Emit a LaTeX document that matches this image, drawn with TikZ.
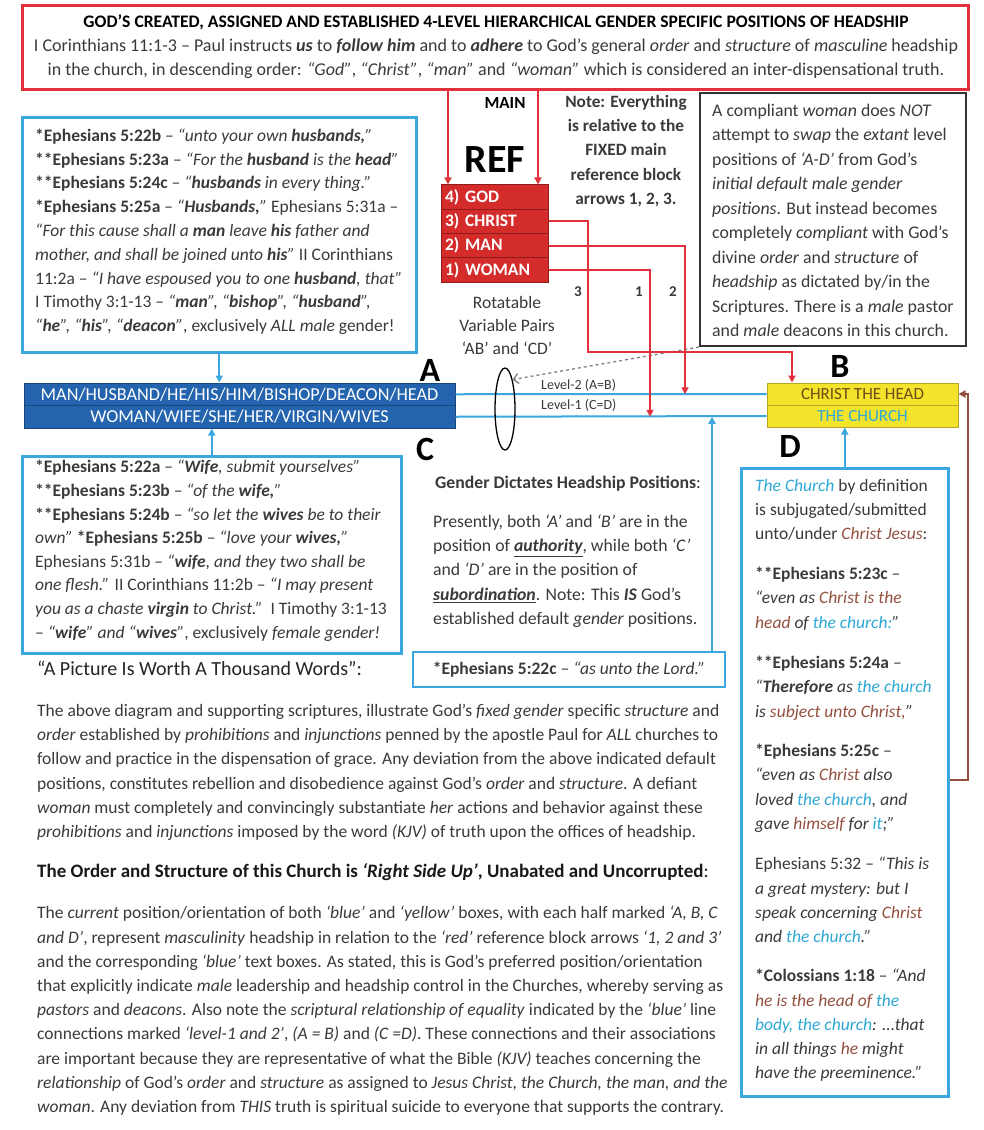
\documentclass[tikz,border=0pt]{standalone}
\usepackage{fontspec}
\setmainfont{Carlito}
\usetikzlibrary{arrows.meta,shapes.geometric}
\definecolor{redc}{HTML}{E0313C}
\definecolor{refred}{HTML}{D42B2B}
\definecolor{refdark}{HTML}{8E1C1C}
\definecolor{barblue}{HTML}{2464AE}
\definecolor{lb}{HTML}{3BA7DF}
\definecolor{ylw}{HTML}{F3E32B}
\definecolor{ylwb}{HTML}{B9A42A}
\definecolor{ydk}{HTML}{6B4E16}
\definecolor{brn}{HTML}{93503F}
\definecolor{txtc}{HTML}{3A3A3A}
\definecolor{chl}{HTML}{2FA8D5}
\newcommand{\cbr}[1]{\textcolor{brn}{#1}}
\newcommand{\clb}[1]{\textcolor{chl}{#1}}
\newcommand{\fsbox}{\fontsize{17.5}{24.2}\selectfont}
\newcommand{\fsbot}{\fontsize{17.5}{24.2}\selectfont}
\tikzset{
  bx/.style={draw=lb, line width=2.5pt, inner sep=0pt, anchor=north west},
  tx/.style={anchor=north west, inner sep=0pt, align=left, text=txtc, font=\fsbox},
  ra/.style={draw=redc, line width=2pt, -{Triangle[length=7,width=7]}},
  lba/.style={draw=lb, line width=2pt, -{Triangle[length=7,width=7]}},
  lbl/.style={draw=lb, line width=2pt},
  refrow/.style={fill=refred, draw=refdark, line width=1pt, minimum width=107, minimum height=24.25, text width=99, align=left, inner sep=0pt, text=white, font=\fontsize{17.5}{18}\selectfont\bfseries},
  barst/.style={fill=barblue, draw=barblue!70!black, line width=1pt, text=white, inner sep=0pt, minimum width=431, minimum height=22.5, font=\fontsize{18.2}{19}\selectfont},
  ylst/.style={fill=ylw, draw=ylwb, line width=1pt, inner sep=0pt, minimum width=191, minimum height=22, font=\fontsize{17}{18}\selectfont},
  big/.style={font=\fontsize{34}{36}\selectfont\bfseries, text=black, inner sep=0pt},
  lab/.style={font=\fontsize{14}{16}\selectfont, text=txtc, inner sep=0pt}
}
\begin{document}
\begin{tikzpicture}[x=1pt,y=-1pt]
\fill[white] (0,0) rectangle (984,1130);
\useasboundingbox (0,0) rectangle (984,1130);

% ---------- top box
\node[draw=redc, line width=2.5pt, minimum width=946, minimum height=84, anchor=north west, inner sep=0pt] (topbox) at (21,4) {};
\node[font=\fontsize{17.6}{19}\selectfont\bfseries, text=black, inner sep=0pt] (t1) at (496,22) {GOD’S CREATED, ASSIGNED AND ESTABLISHED 4-LEVEL HIERARCHICAL GENDER SPECIFIC POSITIONS OF HEADSHIP};
\node[font=\fontsize{18}{20}\selectfont, text=txtc, inner sep=0pt] (t2) at (496,47) {I Corinthians 11:1-3 – Paul instructs \textbf{\textit{us}} to \textbf{\textit{follow him}} and to \textbf{\textit{adhere}} to God’s general \textit{order} and \textit{structure} of \textit{masculine} headship};
\node[font=\fontsize{18}{20}\selectfont, text=txtc, inner sep=0pt] (t3) at (496,71) {in the church, in descending order: \textit{“God”}, \textit{“Christ”}, \textit{“man”} and \textit{“woman”} which is considered an inter-dispensational truth.};

% ---------- REF block
\node[font=\fontsize{17}{19}\selectfont\bfseries, text=black, inner sep=0pt] (mainlbl) at (505,103) {MAIN};
\node[font=\fontsize{40}{44}\selectfont\bfseries, text=black, inner sep=0pt] (reflbl) at (495,160) {REF};
\node[refrow] (god) at (494.5,197.1) {4) GOD};
\node[refrow] (christ) at (494.5,221.4) {3) CHRIST};
\node[refrow] (man) at (494.5,245.6) {2) MAN};
\node[refrow] (woman) at (494.5,269.9) {1) WOMAN};
\coordinate (m1) at (448,0);
\coordinate (m2) at (538,0);
\draw[ra] (topbox.south -| m1) -- (god.north -| m1);
\draw[ra] (topbox.south -| m2) -- (god.north -| m2);

\node[anchor=north, align=center, inner sep=0pt, text=txtc, font=\fontsize{17.3}{24.25}\selectfont\bfseries] (note1) at (626,95) {Note: Everything\\is relative to the\\FIXED main\\reference block\\arrows 1, 2, 3.};

\node[anchor=north, align=center, inner sep=0pt, text=txtc, font=\fontsize{17.5}{23}\selectfont] (rot) at (507,296) {Rotatable\\Variable Pairs\\‘AB’ and ‘CD’};

\node[lab, font=\fontsize{15}{17}\selectfont\bfseries] (n3) at (578,292) {3};
\node[lab, font=\fontsize{15}{17}\selectfont\bfseries] (n1) at (639,292) {1};
\node[lab, font=\fontsize{15}{17}\selectfont\bfseries] (n2) at (673,292) {2};

% ---------- black note box
\node[draw=black!80, line width=2pt, minimum width=266, minimum height=253, anchor=north west, inner sep=0pt] (note2) at (699,92) {};
\node[tx, font=\fontsize{17.8}{24.5}\selectfont] (note2t) at (712,103.5) {A compliant \textit{woman} does \textit{NOT}\\attempt to \textit{swap} the \textit{extant} level\\positions of \textit{‘A-D’} from God’s\\\textit{initial default male gender}\\\textit{positions}. But instead becomes\\completely \textit{compliant} with God’s\\divine \textit{order} and \textit{structure} of\\\textit{headship} as dictated by/in the\\Scriptures. There is a \textit{male} pastor\\and \textit{male} deacons in this church.};

% ---------- left top box
\node[bx, minimum width=394, minimum height=235] (ltb) at (21,116) {};
\node[tx, font=\fontsize{17.5}{23.8}\selectfont] (ltbt) at (35,128.5) {\textbf{*Ephesians 5:22b} – \textit{“unto your own \textbf{husbands,}”}\\\textbf{**Ephesians 5:23a} – \textit{“For the \textbf{husband} is the \textbf{head}”}\\\textbf{**Ephesians 5:24c} – \textit{“\textbf{husbands} in every thing.”}\\\textbf{*Ephesians 5:25a} – \textit{“\textbf{Husbands,}”} Ephesians 5:31a –\\\textit{“For this cause shall a \textbf{man} leave \textbf{his} father and}\\\textit{mother, and shall be joined unto \textbf{his}”} II Corinthians\\11:2a – \textit{“I have espoused you to one \textbf{husband}, that”}\\I Timothy 3:1-13 – \textit{“\textbf{man}”, “\textbf{bishop}”, “\textbf{husband}”,}\\\textit{“\textbf{he}”, “\textbf{his}”, “\textbf{deacon}”}, exclusively \textit{ALL male} gender!};

% ---------- bars
\node[barst] (barA) at (239.5,394.25) {MAN/HUSBAND/HE/HIS/HIM/BISHOP/DEACON/HEAD};
\node[barst] (barC) at (239.5,416.75) {WOMAN/WIFE/SHE/HER/VIRGIN/WIVES};
\node[big] (lA) at (430,370) {A};
\node[big] (lC) at (425,449) {C};
\node[big] (lB) at (840,366) {B};
\node[big] (lD) at (790,446) {D};

\node[ylst] (yB) at (862.5,394) {\textcolor{ydk}{CHRIST THE HEAD}};
\node[ylst] (yD) at (862.5,416) {\textcolor{chl}{THE CHURCH}};

\draw[lbl] (barA.east) -- (yB.west);
\draw[lbl] (barC.east) -- (yD.west);

\node[draw=black, ellipse, line width=1.3pt, minimum width=20, minimum height=82, inner sep=0pt] (ell) at (505,409) {};
\node[lab, anchor=west] (lv2) at (541,385) {Level-2 (A=B)};
\node[lab, anchor=west] (lv1) at (541,405) {Level-1 (C=D)};

\draw[dashed, draw=gray, line width=1.3pt, -{Straight Barb[length=5,width=10]}] (note2.south west) -- (ell.north east);

% red connectors
\coordinate (r3) at (588,352);
\coordinate (r3b) at (792,0);
\coordinate (r2) at (685,0);
\coordinate (r1) at (650,0);
\draw[ra] (christ.east) -| (r3) -| (yB.north -| r3b);
\draw[ra] (man.east) -| (barA.east -| r2);
\draw[ra] (woman.east) -| (barC.east -| r1);

% blue arrows
\draw[lba] (ltb.south) -- (ltb.south |- barA.north);

% ---------- left lower box
\node[bx, minimum width=379, minimum height=197] (llb) at (21,455) {};
\draw[lba] (llb.north) -- (llb.north |- barC.south);
\node[tx, font=\fontsize{17.5}{23.6}\selectfont] (llbt) at (35,460) {\textbf{*Ephesians 5:22a} – \textit{“\textbf{Wife}, submit yourselves”}\\\textbf{**Ephesians 5:23b} – \textit{“of the \textbf{wife,}”}\\\textbf{**Ephesians 5:24b} – \textit{“so let the \textbf{wives} be to their}\\\textit{own”} \textbf{*Ephesians 5:25b} – \textit{“love your \textbf{wives,}”}\\Ephesians 5:31b – \textit{“\textbf{wife}, and they two shall be}\\\textit{one flesh.”} II Corinthians 11:2b – \textit{“I may present}\\\textit{you as a chaste \textbf{virgin} to Christ.”}\ \ I Timothy 3:1-13\\– \textit{“\textbf{wife}” and “\textbf{wives}”}, exclusively \textit{female gender!}};

% ---------- middle gender text
\node[tx, font=\fontsize{17.7}{20}\selectfont\bfseries] (gh) at (435,475.5) {Gender Dictates Headship Positions\textmd{:}};
\node[tx, font=\fontsize{17.7}{24.25}\selectfont] (gp) at (433,514.5) {Presently, both \textit{‘A’} and \textit{‘B’} are in the\\position of \textbf{\textit{\underline{authority}}}, while both \textit{‘C’}\\and \textit{‘D’} are in the position of\\\textbf{\textit{\underline{subordination}}}. Note: This \textbf{\textit{IS}} God’s\\established default \textit{gender} positions.};
\node[draw=lb, line width=2.5pt, minimum width=312, minimum height=35, inner sep=0pt, font=\fsbox, text=txtc] (e22c) at (569,669.5) {\textbf{*Ephesians 5:22c} – \textit{“as unto the Lord.”}};
\coordinate (gx) at (712,0);
\draw[lba] (e22c.north -| gx) -- (barC.east -| gx);

% ---------- right lower box
\node[bx, minimum width=207, minimum height=628] (rb) at (740,467) {};
\draw[lba] (rb.north) -- (rb.north |- yD.south);
\coordinate (bx1) at (968,780);
\draw[draw=brn, line width=2pt, -{Triangle[length=7,width=7]}] (rb.east |- bx1) -- (bx1) |- (yB.east);

\node[tx] (rb1) at (755,479) {\clb{\textit{The Church}} by definition\\is subjugated/submitted\\unto/under \cbr{\textit{Christ Jesus}}:};
\node[tx] (rb2) at (755,567) {\textbf{**Ephesians 5:23c} –\\\textit{“even as \cbr{Christ is the}}\\\textit{\cbr{head} of \clb{the church:}”}};
\node[tx] (rb3) at (755,656) {\textbf{**Ephesians 5:24a} –\\\textit{“\textbf{Therefore} as \clb{the church}}\\\textit{is \cbr{subject unto Christ,}”}};
\node[tx] (rb4) at (755,744) {\textbf{*Ephesians 5:25c} –\\\textit{“even as \cbr{Christ} also}\\\textit{loved \clb{the church}, and}\\\textit{gave \cbr{himself} for \clb{it};”}};
\node[tx] (rb5) at (755,857) {Ephesians 5:32 – \textit{“This is}\\\textit{a great mystery: but I}\\\textit{speak concerning \cbr{Christ}}\\\textit{and \clb{the church}.”}};
\node[tx] (rb6) at (755,969) {\textbf{*Colossians 1:18} – \textit{“And}\\\textit{\cbr{he is the head of} \clb{the}}\\\textit{\clb{body, the church}: ...that}\\\textit{in all things \cbr{he} might}\\\textit{have the preeminence.”}};

% ---------- bottom text
\node[tx, font=\fontsize{20}{22}\selectfont, text=black!85] (h1) at (37,661) {“A Picture Is Worth A Thousand Words”:};
\node[tx, font=\fsbot] (p1) at (37,704) {The above diagram and supporting scriptures, illustrate God’s \textit{fixed gender} specific \textit{structure} and\\\textit{order} established by \textit{prohibitions} and \textit{injunctions} penned by the apostle Paul for \textit{ALL} churches to\\follow and practice in the dispensation of grace. Any deviation from the above indicated default\\positions, constitutes rebellion and disobedience against God’s \textit{order} and \textit{structure}. A defiant\\\textit{woman} must completely and convincingly substantiate \textit{her} actions and behavior against these\\\textit{prohibitions} and \textit{injunctions} imposed by the word \textit{(KJV)} of truth upon the offices of headship.};
\node[tx, font=\fontsize{19}{21}\selectfont\bfseries, text=black!90] (h2) at (37,863) {The Order and Structure of this Church is \textit{‘Right Side Up’}, Unabated and Uncorrupted\textmd{:}};
\node[tx, font=\fsbot] (p2) at (37,906) {The \textit{current} position/orientation of both \textit{‘blue’} and \textit{‘yellow’} boxes, with each half marked \textit{‘A, B, C}\\\textit{and D’}, represent \textit{masculinity} headship in relation to the \textit{‘red’} reference block arrows \textit{‘1, 2 and 3’}\\and the corresponding \textit{‘blue’} text boxes. As stated, this is God’s preferred position/orientation\\that explicitly indicate \textit{male} leadership and headship control in the Churches, whereby serving as\\\textit{pastors} and \textit{deacons}. Also note the \textit{scriptural relationship of equality} indicated by the \textit{‘blue’} line\\connections marked \textit{‘level-1 and 2’}, \textit{(A = B)} and \textit{(C =D)}. These connections and their associations\\are important because they are representative of what the Bible \textit{(KJV)} teaches concerning the\\\textit{relationship} of God’s \textit{order} and \textit{structure} as assigned to \textit{Jesus Christ, the Church, the man, and the}\\\textit{woman}. Any deviation from \textit{THIS} truth is spiritual suicide to everyone that supports the contrary.};
\end{tikzpicture}
\end{document}
